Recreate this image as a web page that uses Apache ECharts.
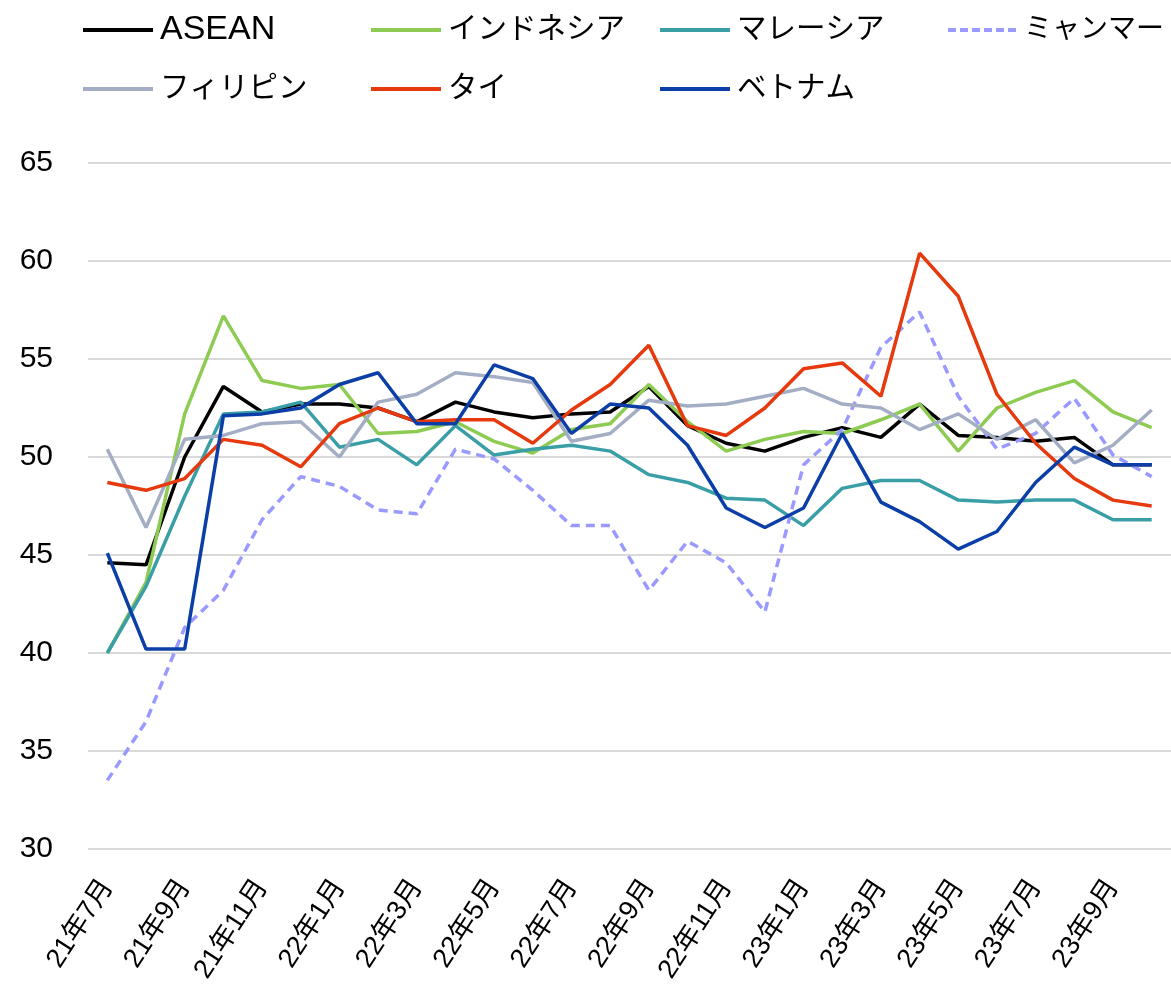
<!DOCTYPE html>
<html>
<head>
<meta charset="utf-8">
<script src="https://cdn.jsdelivr.net/npm/echarts@6/dist/echarts.min.js"></script>
<style>
  html, body { margin: 0; padding: 0; background: #fff; }
  #chart { width: 1171px; height: 992px; }
</style>
</head>
<body>
<div id="chart"></div>
<script>
// months, 21年7月 .. 23年10月
const months = [
  "21年7月", "21年8月", "21年9月", "21年10月", "21年11月", "21年12月",
  "22年1月", "22年2月", "22年3月", "22年4月", "22年5月", "22年6月",
  "22年7月", "22年8月", "22年9月", "22年10月", "22年11月", "22年12月",
  "23年1月", "23年2月", "23年3月", "23年4月", "23年5月", "23年6月",
  "23年7月", "23年8月", "23年9月", "23年10月"
];

const asean = [44.6, 44.5, 50.0, 53.6, 52.3, 52.7, 52.7, 52.5, 51.8, 52.8, 52.3, 52.0, 52.2, 52.3,
  53.6, 51.6, 50.7, 50.3, 51.0, 51.5, 51.0, 52.7, 51.1, 51.0, 50.8, 51.0, 49.6, 49.6];
const indonesia = [40.0, 43.6, 52.2, 57.2, 53.9, 53.5, 53.7, 51.2, 51.3, 51.8, 50.8, 50.2, 51.4, 51.7,
  53.7, 51.8, 50.3, 50.9, 51.3, 51.2, 51.9, 52.7, 50.3, 52.5, 53.3, 53.9, 52.3, 51.5];
const malaysia = [40.0, 43.4, 48.0, 52.2, 52.3, 52.8, 50.5, 50.9, 49.6, 51.6, 50.1, 50.4, 50.6, 50.3,
  49.1, 48.7, 47.9, 47.8, 46.5, 48.4, 48.8, 48.8, 47.8, 47.7, 47.8, 47.8, 46.8, 46.8];
const myanmar = [33.5, 36.5, 41.3, 43.2, 46.8, 49.0, 48.5, 47.3, 47.1, 50.4, 49.9, 48.3, 46.5, 46.5,
  43.2, 45.7, 44.6, 42.1, 49.6, 51.4, 55.6, 57.4, 53.1, 50.4, 51.2, 53.0, 50.1, 49.0];
const philippines = [50.4, 46.4, 50.9, 51.1, 51.7, 51.8, 50.0, 52.8, 53.2, 54.3, 54.1, 53.8, 50.8, 51.2,
  52.9, 52.6, 52.7, 53.1, 53.5, 52.7, 52.5, 51.4, 52.2, 50.9, 51.9, 49.7, 50.6, 52.4];
const thailand = [48.7, 48.3, 48.9, 50.9, 50.6, 49.5, 51.7, 52.5, 51.8, 51.9, 51.9, 50.7, 52.4, 53.7,
  55.7, 51.6, 51.1, 52.5, 54.5, 54.8, 53.1, 60.4, 58.2, 53.2, 50.7, 48.9, 47.8, 47.5];
const vietnam = [45.1, 40.2, 40.2, 52.1, 52.2, 52.5, 53.7, 54.3, 51.7, 51.7, 54.7, 54.0, 51.2, 52.7,
  52.5, 50.6, 47.4, 46.4, 47.4, 51.2, 47.7, 46.7, 45.3, 46.2, 48.7, 50.5, 49.6, 49.6];

const seriesDefs = [
  { name: "ASEAN", data: asean, color: "#000000", dashed: false, legendPos: [83, 12], fs: 34 },
  { name: "インドネシア", data: indonesia, color: "#8DCB52", dashed: false, legendPos: [371, 12], fs: 29.5 },
  { name: "マレーシア", data: malaysia, color: "#3A9EA6", dashed: false, legendPos: [660, 12], fs: 29.5 },
  { name: "ミャンマー", data: myanmar, color: "#9999FF", dashed: true, legendPos: [948, 12], fs: 28 },
  { name: "フィリピン", data: philippines, color: "#A3AEC4", dashed: false, legendPos: [83, 71], fs: 29.5 },
  { name: "タイ", data: thailand, color: "#E6390E", dashed: false, legendPos: [371, 71], fs: 29.5 },
  { name: "ベトナム", data: vietnam, color: "#0B3FA7", dashed: false, legendPos: [660, 71], fs: 29.5 }
];

// legend swatches: plain bar, or a row of short dashes for the dashed series
const dashIcon = "path://M0,0h8v4h-8z M12,0h8v4h-8z M24,0h8v4h-8z M36,0h8v4h-8z M48,0h8v4h-8z M60,0h8v4h-8z";
const fontJa = "'Liberation Sans', 'Noto Sans CJK JP', sans-serif";

const chart = echarts.init(document.getElementById("chart"));
chart.setOption({
  animation: false,
  backgroundColor: "#ffffff",
  textStyle: { fontFamily: fontJa },
  legend: seriesDefs.map(s => ({
    data: [s.name],
    left: s.legendPos[0],
    top: s.legendPos[1],
    icon: s.dashed ? dashIcon : "rect",
    itemWidth: 70,
    itemHeight: 4,
    padding: 0,
    selectedMode: false,
    textStyle: { fontSize: s.fs, color: "#000", fontFamily: fontJa, lineHeight: 36, padding: [0, 0, 0, 2] }
  })),
  grid: { left: 88, right: -14, top: 163, bottom: 143, containLabel: false },
  xAxis: {
    type: "category",
    data: months,
    boundaryGap: true,
    axisLine: { show: false },
    axisTick: { show: false },
    axisLabel: {
      interval: 1,
      rotate: 57,
      margin: 33,
      fontSize: 27,
      color: "#000",
      fontFamily: fontJa
    }
  },
  yAxis: {
    type: "value",
    min: 30,
    max: 65,
    interval: 5,
    axisLine: { show: false },
    axisTick: { show: false },
    axisLabel: { fontSize: 30, color: "#000", margin: 35, fontFamily: "'Liberation Sans', sans-serif" },
    splitLine: { lineStyle: { color: "#d9d9d9", width: 2 } }
  },
  series: seriesDefs.map(s => ({
    name: s.name,
    type: "line",
    data: s.data,
    symbol: "none",
    color: s.color,
    lineStyle: { color: s.color, width: 3.5, type: s.dashed ? [9, 6] : "solid" }
  }))
});
</script>
</body>
</html>
